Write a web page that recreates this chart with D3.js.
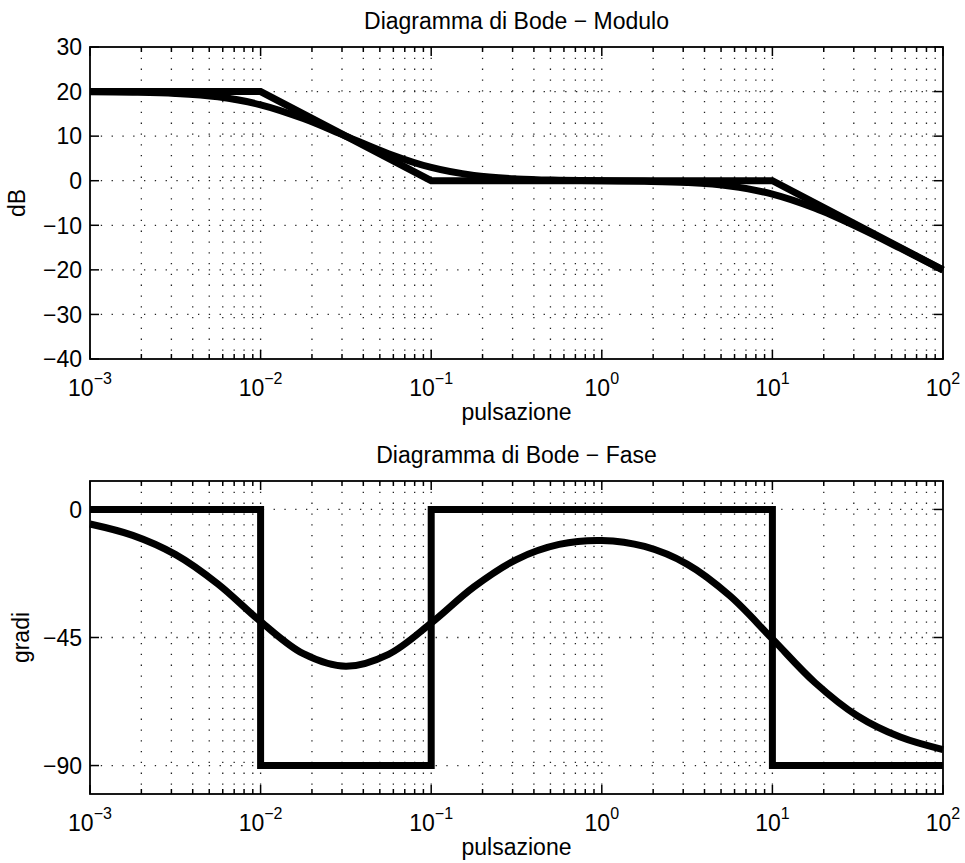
<!DOCTYPE html>
<html>
<head>
<meta charset="utf-8">
<script src="https://cdn.jsdelivr.net/npm/d3@7"></script>
<style>
  body { margin: 0; background: #fff; }
  text { font-family: "Liberation Sans", Arial, Helvetica, sans-serif; fill: #000; }
</style>
</head>
<body>
<div id="chart"></div>
<script>
// values (quarter-decade samples)
const freqs = [0.001, 0.00178, 0.00316, 0.00562, 0.01, 0.0178, 0.0316, 0.0562, 0.1, 0.178, 0.316,
  0.562, 1, 1.78, 3.16, 5.62, 10, 17.8, 31.6, 56.2, 100];
const magnitudeDb = [19.96, 19.87, 19.59, 18.82, 17.03, 13.94, 10.0, 6.06, 2.97, 1.18, 0.41,
  0.12, 0.0, -0.12, -0.41, -1.19, -3.01, -6.19, -10.41, -15.14, -20.04];
const phaseDeg = [-5.1, -9.1, -15.8, -26.2, -39.4, -50.7, -55.1, -50.9, -39.9, -27.2, -17.6,
  -12.3, -10.9, -13.0, -19.2, -30.3, -45.5, -60.9, -72.6, -80.0, -84.4];

// asymptotic approximations
const asymMagFreqs = [0.001, 0.01, 0.1, 10, 100];
const asymMag = [20, 20, 0, 0, -20];
const asymPhaseFreqs = [0.001, 0.01, 0.01, 0.1, 0.1, 10, 10, 100];
const asymPhase = [0, 0, -90, -90, 0, 0, -90, -90];

// ticks
const decades = [-3, -2, -1, 0, 1, 2];
const magTicks = [-40, -30, -20, -10, 0, 10, 20, 30];
const phaseTicks = [-90, -45, 0];

const W = 965, H = 863;
const svg = d3.select("#chart").append("svg").attr("width", W).attr("height", H);

const minorFreqs = [];
for (let e = -3; e < 2; e++) for (let m = 2; m <= 9; m++) minorFreqs.push(m * Math.pow(10, e));
const majorFreqs = decades.map(e => Math.pow(10, e));

function panel(opt) {
  const x = d3.scaleLog().domain([1e-3, 1e2]).range([opt.left, opt.right]);
  const y = d3.scaleLinear().domain(opt.ydomain).range([opt.bottom, opt.top]);
  const g = svg.append("g");

  // grid
  const grid = g.append("g").attr("stroke", "#222").attr("stroke-width", 1.3)
    .attr("stroke-dasharray", "1.3,9.5");
  grid.selectAll(".vg").data(minorFreqs.concat(majorFreqs.slice(1, -1))).enter().append("line")
    .attr("x1", d => x(d)).attr("x2", d => x(d)).attr("y1", opt.top).attr("y2", opt.bottom);
  grid.selectAll(".hg").data(opt.yticks.filter(t => y(t) > opt.top + 1 && y(t) < opt.bottom - 1))
    .enter().append("line")
    .attr("x1", opt.left).attr("x2", opt.right).attr("y1", d => y(d)).attr("y2", d => y(d));

  // ticks (inside, all four sides)
  const tk = g.append("g").attr("stroke", "#000").attr("stroke-width", 1.5);
  const xt = majorFreqs.map(f => ({ f, len: 9 })).concat(minorFreqs.map(f => ({ f, len: 5 })));
  xt.forEach(t => {
    tk.append("line").attr("x1", x(t.f)).attr("x2", x(t.f)).attr("y1", opt.bottom).attr("y2", opt.bottom - t.len);
    tk.append("line").attr("x1", x(t.f)).attr("x2", x(t.f)).attr("y1", opt.top).attr("y2", opt.top + t.len);
  });
  opt.yticks.forEach(t => {
    tk.append("line").attr("x1", opt.left).attr("x2", opt.left + 9).attr("y1", y(t)).attr("y2", y(t));
    tk.append("line").attr("x1", opt.right).attr("x2", opt.right - 9).attr("y1", y(t)).attr("y2", y(t));
  });

  // curves
  const line = d3.line().x(d => x(d[0])).y(d => y(d[1]));
  g.append("path").datum(d3.zip(opt.asymF, opt.asymV))
    .attr("d", line).attr("fill", "none").attr("stroke", "#000").attr("stroke-width", 7)
    .attr("stroke-linejoin", "miter").attr("stroke-linecap", "butt");
  g.append("path").datum(d3.zip(freqs, opt.values))
    .attr("d", line.curve(d3.curveCatmullRom)).attr("fill", "none").attr("stroke", "#000")
    .attr("stroke-width", 7).attr("stroke-linecap", "butt");

  // frame
  g.append("rect").attr("x", opt.left).attr("y", opt.top)
    .attr("width", opt.right - opt.left).attr("height", opt.bottom - opt.top)
    .attr("fill", "none").attr("stroke", "#000").attr("stroke-width", 1.8);

  // tick labels
  opt.yticks.forEach(t => {
    g.append("text").attr("x", opt.left - 8).attr("y", y(t)).attr("dy", "0.36em")
      .attr("text-anchor", "end").attr("font-size", 23)
      .text(String(t).replace("-", "\u2212"));
  });
  decades.forEach(e => {
    const tx = g.append("text").attr("x", x(Math.pow(10, e))).attr("y", opt.bottom + 37)
      .attr("text-anchor", "middle").attr("font-size", 23);
    tx.append("tspan").text("10");
    tx.append("tspan").attr("dy", -12).attr("font-size", 16).text(String(e).replace("-", "\u2212"));
  });

  // labels
  const cx = (opt.left + opt.right) / 2;
  g.append("text").attr("x", cx).attr("y", opt.top - 18).attr("text-anchor", "middle")
    .attr("font-size", 23).text(opt.title);
  g.append("text").attr("x", cx).attr("y", opt.bottom + 61).attr("text-anchor", "middle")
    .attr("font-size", 23).text("pulsazione");
  g.append("text").attr("transform", `translate(${opt.ylabelX},${(opt.top + opt.bottom) / 2}) rotate(-90)`)
    .attr("text-anchor", "middle").attr("font-size", 23).text(opt.ylabel);
}

panel({
  left: 90, right: 943, top: 47, bottom: 359, ydomain: [-40, 30], yticks: magTicks,
  values: magnitudeDb, asymF: asymMagFreqs, asymV: asymMag,
  title: "Diagramma di Bode \u2212 Modulo", ylabel: "dB", ylabelX: 25
});
panel({
  left: 90, right: 943, top: 481, bottom: 794, ydomain: [-100, 10], yticks: phaseTicks,
  values: phaseDeg, asymF: asymPhaseFreqs, asymV: asymPhase,
  title: "Diagramma di Bode \u2212 Fase", ylabel: "gradi", ylabelX: 29
});
</script>
</body>
</html>
